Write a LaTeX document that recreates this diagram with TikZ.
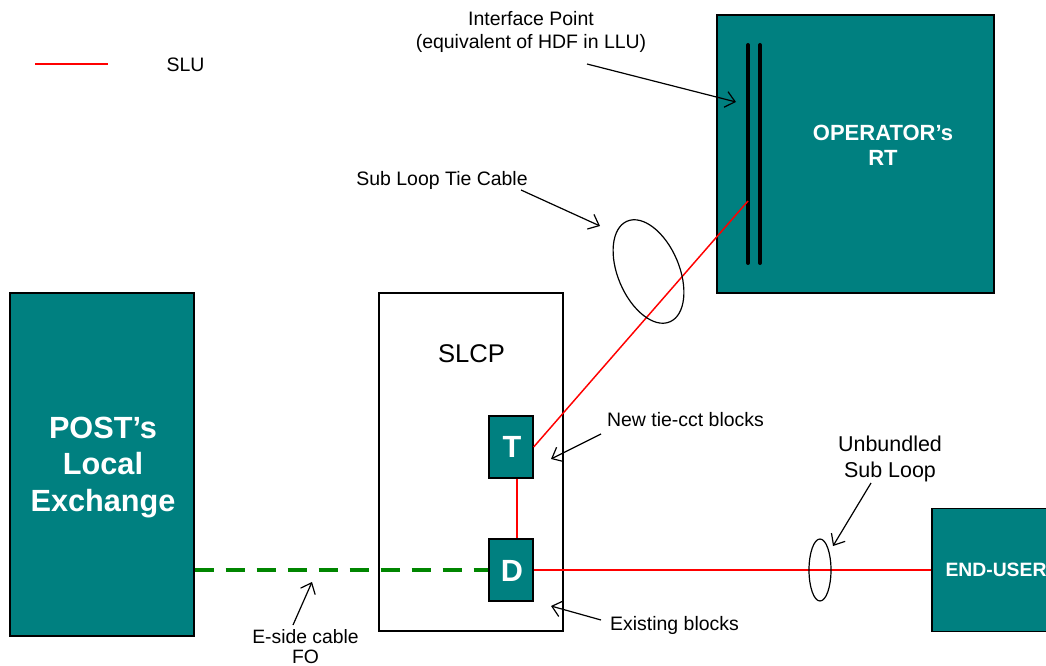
\documentclass[tikz,border=0pt]{standalone}
\usepackage{fontspec}
\setmainfont{Liberation Sans}
\usetikzlibrary{arrows.meta,shapes.geometric,calc}
\definecolor{tealbox}{RGB}{0,128,128}
\definecolor{fibre}{RGB}{0,134,0}
\tikzset{
  blockbox/.style={draw=black,line width=1pt,fill=tealbox,text=white,inner sep=0pt,align=center,font=\bfseries},
  plainbox/.style={draw=black,line width=1pt,fill=white,inner sep=0pt},
  label/.style={inner sep=0pt,align=center,text=black,font=\fontsize{14.6}{16.75}\selectfont},
  slu/.style={draw=red,line width=1.1pt},
  fo/.style={draw=fibre,line width=2.35pt,dash pattern=on 14.25pt off 9pt},
  pointer/.style={draw=black,line width=0.9pt,-{Straight Barb[length=7pt,width=12pt,line width=0.9pt]}},
  bar/.style={draw=black,line width=3pt,line cap=round},
  loopring/.style={draw=black,line width=0.9pt,ellipse,inner sep=0pt,fill=none}
}
\begin{document}
\begin{tikzpicture}[x=0.75pt,y=-0.75pt]
\useasboundingbox (0,0) rectangle (1046,666);
\clip (0,0) rectangle (1046,666);
% boxes
\node[blockbox,minimum width=138pt,minimum height=257.25pt] (post) at (102,464.5) {};
\node[blockbox,draw=none,fill=none,font=\bfseries\fontsize{23}{27.5}\selectfont] (postlabel) at (103,467.5) {POST’s\\Local\\Exchange};
\node[plainbox,minimum width=138pt,minimum height=253.5pt] (slcp) at (471,462) {};
\node[blockbox,minimum width=207.75pt,minimum height=208.5pt] (rt) at (855.5,154) {};
\node[blockbox,draw=none,fill=none,font=\bfseries\fontsize{16.5}{18.75}\selectfont] (rtlabel) at (883,145) {OPERATOR’s\\RT};
\node[blockbox,minimum width=33pt,minimum height=46.5pt] (T) at (511,447) {};
\node[blockbox,draw=none,fill=none,font=\bfseries\fontsize{23}{27}\selectfont] (Tlabel) at (512,447) {T};
\node[blockbox,minimum width=33pt,minimum height=46.5pt] (D) at (511,570) {};
\node[blockbox,draw=none,fill=none,font=\bfseries\fontsize{23}{27}\selectfont] (Dlabel) at (512,570.5) {D};
\node[blockbox,minimum width=96pt,minimum height=92.25pt,font=\bfseries\fontsize{14.5}{17}\selectfont] (enduser) at (996,570) {END-USER};
% interface bars
\coordinate (barAtop) at (748,45);
\coordinate (barAbot) at (748,263);
\coordinate (barBtop) at (760,45);
\coordinate (barBbot) at (760,263);
\draw[bar] (barAtop) -- (barAbot);
\draw[bar] (barBtop) -- (barBbot);
% connectors
\coordinate (tieEnd) at (748,201);
\draw[fo] (post.east |- D.west) -- (D.west);
\draw[slu] (T.east) -- (tieEnd);
\draw[slu] ($(T.south)+(6,0)$) -- ($(D.north)+(6,0)$);
\draw[slu] (D.east) -- (enduser.west);
% cable rings
\node[loopring,minimum width=46pt,minimum height=82pt,rotate=23] (ringA) at (648.5,271.5) {};
\node[loopring,minimum width=16.5pt,minimum height=46.5pt] (ringB) at (820,570) {};
% legend
\coordinate (legA) at (35,64);
\coordinate (legB) at (108,64);
\draw[slu] (legA) -- (legB);
\node[label] (slutxt) at (185.5,65) {SLU};
% labels
\node[label] (iface) at (531,32) {Interface Point\\(equivalent of HDF in LLU)};
\node[label] (tiecable) at (442,180.5) {Sub Loop Tie Cable};
\node[label,font=\fontsize{19.2}{22}\selectfont] (slcplabel) at (471.5,354) {SLCP};
\node[label] (newblocks) at (685.5,420) {New tie-cct blocks};
\node[label] (existing) at (674.5,625) {Existing blocks};
\node[label,font=\fontsize{16.1}{19.5}\selectfont] (unb) at (890,459) {Unbundled\\Sub Loop};
\node[label,font=\fontsize{14.5}{15}\selectfont] (eside) at (305.5,646.5) {E-side cable\\FO};
% pointers
\coordinate (p1a) at (587,64);  \coordinate (p1b) at (736,102);
\coordinate (p2a) at (521,190); \coordinate (p2b) at (600,226);
\coordinate (p3a) at (601,434); \coordinate (p3b) at (551,459);
\coordinate (p4a) at (601,620); \coordinate (p4b) at (551,606);
\coordinate (p5a) at (871,483); \coordinate (p5b) at (833,546);
\coordinate (p6a) at (293,625); \coordinate (p6b) at (312,582);
\draw[pointer] (p1a) -- (p1b);
\draw[pointer] (p2a) -- (p2b);
\draw[pointer] (p3a) -- (p3b);
\draw[pointer] (p4a) -- (p4b);
\draw[pointer] (p5a) -- (p5b);
\draw[pointer] (p6a) -- (p6b);
\end{tikzpicture}
\end{document}
